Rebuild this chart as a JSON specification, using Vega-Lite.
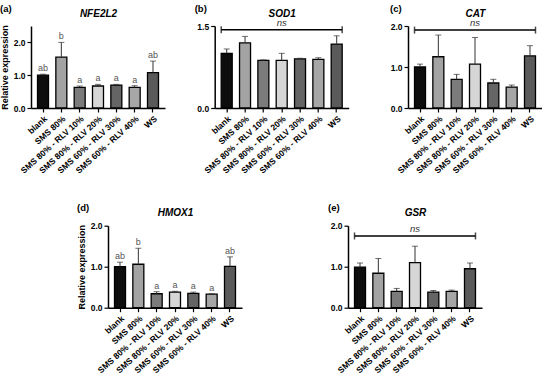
{
  "$schema": "https://vega.github.io/schema/vega-lite/v6.json",
  "autosize": {"type": "pad"},
  "padding": {"left": 0, "top": 3, "right": 0, "bottom": 0},
  "background": "white",
  "datasets": {
    "bars": [
      {"gene": "NFE2L2", "cond": "blank", "mean": 1.0, "upper": 1.03, "letter": "ab"},
      {"gene": "NFE2L2", "cond": "SMS 80%", "mean": 1.55, "upper": 2.0, "letter": "b"},
      {"gene": "NFE2L2", "cond": "SMS 80% - RLV 10%", "mean": 0.63, "upper": 0.67, "letter": "a"},
      {"gene": "NFE2L2", "cond": "SMS 80% - RLV 20%", "mean": 0.67, "upper": 0.72, "letter": "a"},
      {"gene": "NFE2L2", "cond": "SMS 60% - RLV 30%", "mean": 0.70, "upper": 0.72, "letter": "a"},
      {"gene": "NFE2L2", "cond": "SMS 60% - RLV 40%", "mean": 0.63, "upper": 0.68, "letter": "a"},
      {"gene": "NFE2L2", "cond": "WS", "mean": 1.08, "upper": 1.43, "letter": "ab"},
      {"gene": "SOD1", "cond": "blank", "mean": 1.0, "upper": 1.08, "letter": ""},
      {"gene": "SOD1", "cond": "SMS 80%", "mean": 1.19, "upper": 1.31, "letter": ""},
      {"gene": "SOD1", "cond": "SMS 80% - RLV 10%", "mean": 0.87, "upper": 0.88, "letter": ""},
      {"gene": "SOD1", "cond": "SMS 80% - RLV 20%", "mean": 0.87, "upper": 1.0, "letter": ""},
      {"gene": "SOD1", "cond": "SMS 60% - RLV 30%", "mean": 0.90, "upper": 0.91, "letter": ""},
      {"gene": "SOD1", "cond": "SMS 60% - RLV 40%", "mean": 0.89, "upper": 0.92, "letter": ""},
      {"gene": "SOD1", "cond": "WS", "mean": 1.17, "upper": 1.32, "letter": ""},
      {"gene": "CAT", "cond": "blank", "mean": 1.0, "upper": 1.07, "letter": ""},
      {"gene": "CAT", "cond": "SMS 80%", "mean": 1.25, "upper": 1.78, "letter": ""},
      {"gene": "CAT", "cond": "SMS 80% - RLV 10%", "mean": 0.70, "upper": 0.82, "letter": ""},
      {"gene": "CAT", "cond": "SMS 80% - RLV 20%", "mean": 1.07, "upper": 1.72, "letter": ""},
      {"gene": "CAT", "cond": "SMS 60% - RLV 30%", "mean": 0.61, "upper": 0.70, "letter": ""},
      {"gene": "CAT", "cond": "SMS 60% - RLV 40%", "mean": 0.51, "upper": 0.56, "letter": ""},
      {"gene": "CAT", "cond": "WS", "mean": 1.27, "upper": 1.52, "letter": ""},
      {"gene": "HMOX1", "cond": "blank", "mean": 1.0, "upper": 1.11, "letter": "ab"},
      {"gene": "HMOX1", "cond": "SMS 80%", "mean": 1.06, "upper": 1.45, "letter": "b"},
      {"gene": "HMOX1", "cond": "SMS 80% - RLV 10%", "mean": 0.34, "upper": 0.39, "letter": "a"},
      {"gene": "HMOX1", "cond": "SMS 80% - RLV 20%", "mean": 0.38, "upper": 0.40, "letter": "a"},
      {"gene": "HMOX1", "cond": "SMS 60% - RLV 30%", "mean": 0.35, "upper": 0.38, "letter": "a"},
      {"gene": "HMOX1", "cond": "SMS 60% - RLV 40%", "mean": 0.33, "upper": 0.34, "letter": "a"},
      {"gene": "HMOX1", "cond": "WS", "mean": 1.01, "upper": 1.24, "letter": "ab"},
      {"gene": "GSR", "cond": "blank", "mean": 0.99, "upper": 1.09, "letter": ""},
      {"gene": "GSR", "cond": "SMS 80%", "mean": 0.84, "upper": 1.20, "letter": ""},
      {"gene": "GSR", "cond": "SMS 80% - RLV 10%", "mean": 0.40, "upper": 0.47, "letter": ""},
      {"gene": "GSR", "cond": "SMS 80% - RLV 20%", "mean": 1.10, "upper": 1.50, "letter": ""},
      {"gene": "GSR", "cond": "SMS 60% - RLV 30%", "mean": 0.38, "upper": 0.42, "letter": ""},
      {"gene": "GSR", "cond": "SMS 60% - RLV 40%", "mean": 0.40, "upper": 0.43, "letter": ""},
      {"gene": "GSR", "cond": "WS", "mean": 0.95, "upper": 1.09, "letter": ""}
    ],
    "ns": [
      {"gene": "SOD1", "from": "blank", "to": "WS", "y": 1.43, "label": "ns"},
      {"gene": "CAT", "from": "blank", "to": "WS", "y": 1.9, "label": "ns"},
      {"gene": "GSR", "from": "blank", "to": "WS", "y": 1.75, "label": "ns"}
    ]
  },
  "vconcat": [
    {
      "bounds": "flush",
      "spacing": 377,
      "hconcat": [
        {
          "bounds": "flush",
          "spacing": 49.7,
          "hconcat": [
            {
              "width": 134, "height": 82,
              "data": {"name": "bars"},
              "transform": [{"filter": "datum.gene === 'NFE2L2'"}],
              "title": {"text": "(a)", "anchor": "start", "frame": "group", "dx": -31, "dy": 9},
              "resolve": {"axis": {"x": "independent"}},
              "layer": [
                {"mark": {"type": "bar", "stroke": "#000", "strokeWidth": 1.3},
                 "encoding": {
                   "x": {"field": "cond", "type": "nominal", "sort": ["blank","SMS 80%","SMS 80% - RLV 10%","SMS 80% - RLV 20%","SMS 60% - RLV 30%","SMS 60% - RLV 40%","WS"], "scale": {"domain": ["blank","SMS 80%","SMS 80% - RLV 10%","SMS 80% - RLV 20%","SMS 60% - RLV 30%","SMS 60% - RLV 40%","WS"], "paddingInner": 0.4, "paddingOuter": 0.355}, "axis": {"orient": "bottom", "title": null, "labelAngle": -42}},
                   "y": {"field": "mean", "type": "quantitative", "scale": {"domain": [0, 2.5], "nice": false}, "axis": {"title": "Relative expression", "values": [0, 0.5, 1, 1.5, 2, 2.5], "format": ".1f"}},
                   "color": {"field": "cond", "type": "nominal", "scale": {"domain": ["blank","SMS 80%","SMS 80% - RLV 10%","SMS 80% - RLV 20%","SMS 60% - RLV 30%","SMS 60% - RLV 40%","WS"], "range": ["#0d0d0d","#a3a3a3","#7b7b7b","#d6d6d6","#656565","#a6a6a6","#5a5a5a"]}, "legend": null}
                 }},
                {"mark": {"type": "rule", "color": "#333", "strokeWidth": 1},
                 "encoding": {
                   "x": {"field": "cond", "type": "nominal", "axis": {"orient": "top", "title": "NFE2L2", "labels": false, "ticks": false, "domain": false, "titleFontStyle": "italic", "titleFontSize": 10, "titlePadding": 8}},
                   "y": {"field": "mean", "type": "quantitative"}, "y2": {"field": "upper"}}},
                {"mark": {"type": "tick", "orient": "horizontal", "size": 6, "thickness": 1, "color": "#333"},
                 "encoding": {"x": {"field": "cond", "type": "nominal", "axis": null}, "y": {"field": "upper", "type": "quantitative"}}},
                {"mark": {"type": "text", "dy": -6, "fontSize": 9, "color": "#555", "font": "Liberation Sans"},
                 "encoding": {"x": {"field": "cond", "type": "nominal", "axis": null}, "y": {"field": "upper", "type": "quantitative"}, "text": {"field": "letter"}}}
              ]
            },
            {
              "width": 134, "height": 82,
              "data": {"name": "bars"},
              "transform": [{"filter": "datum.gene === 'SOD1'"}],
              "title": {"text": "(b)", "anchor": "start", "frame": "group", "dx": -20, "dy": 9},
              "resolve": {"axis": {"x": "independent"}},
              "layer": [
                {"mark": {"type": "bar", "stroke": "#000", "strokeWidth": 1.3},
                 "encoding": {
                   "x": {"field": "cond", "type": "nominal", "sort": ["blank","SMS 80%","SMS 80% - RLV 10%","SMS 80% - RLV 20%","SMS 60% - RLV 30%","SMS 60% - RLV 40%","WS"], "scale": {"domain": ["blank","SMS 80%","SMS 80% - RLV 10%","SMS 80% - RLV 20%","SMS 60% - RLV 30%","SMS 60% - RLV 40%","WS"], "paddingInner": 0.4, "paddingOuter": 0.355}, "axis": {"orient": "bottom", "title": null, "labelAngle": -42}},
                   "y": {"field": "mean", "type": "quantitative", "scale": {"domain": [0, 1.5], "nice": false}, "axis": {"title": null, "values": [0, 0.5, 1, 1.5], "format": ".1f"}},
                   "color": {"field": "cond", "type": "nominal", "scale": {"domain": ["blank","SMS 80%","SMS 80% - RLV 10%","SMS 80% - RLV 20%","SMS 60% - RLV 30%","SMS 60% - RLV 40%","WS"], "range": ["#0d0d0d","#a3a3a3","#7b7b7b","#d6d6d6","#656565","#a6a6a6","#5a5a5a"]}, "legend": null}
                 }},
                {"mark": {"type": "rule", "color": "#333", "strokeWidth": 1},
                 "encoding": {
                   "x": {"field": "cond", "type": "nominal", "axis": {"orient": "top", "title": "SOD1", "labels": false, "ticks": false, "domain": false, "titleFontStyle": "italic", "titleFontSize": 10, "titlePadding": 8}},
                   "y": {"field": "mean", "type": "quantitative"}, "y2": {"field": "upper"}}},
                {"mark": {"type": "tick", "orient": "horizontal", "size": 6, "thickness": 1, "color": "#333"},
                 "encoding": {"x": {"field": "cond", "type": "nominal", "axis": null}, "y": {"field": "upper", "type": "quantitative"}}},
                {"data": {"name": "ns"}, "transform": [{"filter": "datum.gene === 'SOD1'"}],
                 "mark": {"type": "rule", "color": "#000", "strokeWidth": 1.5},
                 "encoding": {"x": {"field": "from", "type": "nominal", "bandPosition": 0, "axis": null}, "x2": {"field": "to", "bandPosition": 1}, "y": {"field": "y", "type": "quantitative"}}},
                {"data": {"name": "ns"}, "transform": [{"filter": "datum.gene === 'SOD1'"}],
                 "mark": {"type": "tick", "orient": "vertical", "size": 7, "thickness": 1.5, "color": "#000"},
                 "encoding": {"x": {"field": "from", "type": "nominal", "bandPosition": 0, "axis": null}, "y": {"field": "y", "type": "quantitative"}}},
                {"data": {"name": "ns"}, "transform": [{"filter": "datum.gene === 'SOD1'"}],
                 "mark": {"type": "tick", "orient": "vertical", "size": 7, "thickness": 1.5, "color": "#000"},
                 "encoding": {"x": {"field": "to", "type": "nominal", "bandPosition": 1, "axis": null}, "y": {"field": "y", "type": "quantitative"}}},
                {"data": {"name": "ns"}, "transform": [{"filter": "datum.gene === 'SOD1'"}],
                 "mark": {"type": "text", "dy": -7, "fontSize": 9.5, "fontStyle": "italic", "color": "#333", "font": "Liberation Sans"},
                 "encoding": {"x": {"datum": "SMS 80% - RLV 20%", "type": "nominal", "axis": null}, "y": {"field": "y", "type": "quantitative"}, "text": {"field": "label"}}}
              ]
            }
          ]
        },
        {
          "width": 134, "height": 82,
          "data": {"name": "bars"},
          "transform": [{"filter": "datum.gene === 'CAT'"}],
          "title": {"text": "(c)", "anchor": "start", "frame": "group", "dx": -18, "dy": 9},
          "resolve": {"axis": {"x": "independent"}},
          "layer": [
            {"mark": {"type": "bar", "stroke": "#000", "strokeWidth": 1.3},
             "encoding": {
               "x": {"field": "cond", "type": "nominal", "sort": ["blank","SMS 80%","SMS 80% - RLV 10%","SMS 80% - RLV 20%","SMS 60% - RLV 30%","SMS 60% - RLV 40%","WS"], "scale": {"domain": ["blank","SMS 80%","SMS 80% - RLV 10%","SMS 80% - RLV 20%","SMS 60% - RLV 30%","SMS 60% - RLV 40%","WS"], "paddingInner": 0.4, "paddingOuter": 0.355}, "axis": {"orient": "bottom", "title": null, "labelAngle": -42}},
               "y": {"field": "mean", "type": "quantitative", "scale": {"domain": [0, 2], "nice": false}, "axis": {"title": null, "values": [0, 0.5, 1, 1.5, 2], "format": ".1f"}},
               "color": {"field": "cond", "type": "nominal", "scale": {"domain": ["blank","SMS 80%","SMS 80% - RLV 10%","SMS 80% - RLV 20%","SMS 60% - RLV 30%","SMS 60% - RLV 40%","WS"], "range": ["#0d0d0d","#a3a3a3","#7b7b7b","#d6d6d6","#656565","#a6a6a6","#5a5a5a"]}, "legend": null}
             }},
            {"mark": {"type": "rule", "color": "#333", "strokeWidth": 1},
             "encoding": {
               "x": {"field": "cond", "type": "nominal", "axis": {"orient": "top", "title": "CAT", "labels": false, "ticks": false, "domain": false, "titleFontStyle": "italic", "titleFontSize": 10, "titlePadding": 8}},
               "y": {"field": "mean", "type": "quantitative"}, "y2": {"field": "upper"}}},
            {"mark": {"type": "tick", "orient": "horizontal", "size": 6, "thickness": 1, "color": "#333"},
             "encoding": {"x": {"field": "cond", "type": "nominal", "axis": null}, "y": {"field": "upper", "type": "quantitative"}}},
            {"data": {"name": "ns"}, "transform": [{"filter": "datum.gene === 'CAT'"}],
             "mark": {"type": "rule", "color": "#000", "strokeWidth": 1.5},
             "encoding": {"x": {"field": "from", "type": "nominal", "bandPosition": 0, "axis": null}, "x2": {"field": "to", "bandPosition": 1}, "y": {"field": "y", "type": "quantitative"}}},
            {"data": {"name": "ns"}, "transform": [{"filter": "datum.gene === 'CAT'"}],
             "mark": {"type": "tick", "orient": "vertical", "size": 7, "thickness": 1.5, "color": "#000"},
             "encoding": {"x": {"field": "from", "type": "nominal", "bandPosition": 0, "axis": null}, "y": {"field": "y", "type": "quantitative"}}},
            {"data": {"name": "ns"}, "transform": [{"filter": "datum.gene === 'CAT'"}],
             "mark": {"type": "tick", "orient": "vertical", "size": 7, "thickness": 1.5, "color": "#000"},
             "encoding": {"x": {"field": "to", "type": "nominal", "bandPosition": 1, "axis": null}, "y": {"field": "y", "type": "quantitative"}}},
            {"data": {"name": "ns"}, "transform": [{"filter": "datum.gene === 'CAT'"}],
             "mark": {"type": "text", "dy": -7, "fontSize": 9.5, "fontStyle": "italic", "color": "#333", "font": "Liberation Sans"},
             "encoding": {"x": {"datum": "SMS 80% - RLV 20%", "type": "nominal", "axis": null}, "y": {"field": "y", "type": "quantitative"}, "text": {"field": "label"}}}
          ]
        }
      ]
    },
    {
      "bounds": "flush",
      "spacing": 0,
      "hconcat": [
        {"width": 77, "height": 1, "data": {"values": []}, "mark": {"type": "rule", "opacity": 0}, "encoding": {}},
        {
          "bounds": "flush",
          "spacing": 106,
          "hconcat": [
            {
              "width": 134, "height": 82,
              "data": {"name": "bars"},
              "transform": [{"filter": "datum.gene === 'HMOX1'"}],
              "title": {"text": "(d)", "anchor": "start", "frame": "group", "dx": -31, "dy": 9},
              "resolve": {"axis": {"x": "independent"}},
              "layer": [
                {"mark": {"type": "bar", "stroke": "#000", "strokeWidth": 1.3},
                 "encoding": {
                   "x": {"field": "cond", "type": "nominal", "sort": ["blank","SMS 80%","SMS 80% - RLV 10%","SMS 80% - RLV 20%","SMS 60% - RLV 30%","SMS 60% - RLV 40%","WS"], "scale": {"domain": ["blank","SMS 80%","SMS 80% - RLV 10%","SMS 80% - RLV 20%","SMS 60% - RLV 30%","SMS 60% - RLV 40%","WS"], "paddingInner": 0.4, "paddingOuter": 0.355}, "axis": {"orient": "bottom", "title": null, "labelAngle": -42}},
                   "y": {"field": "mean", "type": "quantitative", "scale": {"domain": [0, 2], "nice": false}, "axis": {"title": "Relative expression", "values": [0, 0.5, 1, 1.5, 2], "format": ".1f"}},
                   "color": {"field": "cond", "type": "nominal", "scale": {"domain": ["blank","SMS 80%","SMS 80% - RLV 10%","SMS 80% - RLV 20%","SMS 60% - RLV 30%","SMS 60% - RLV 40%","WS"], "range": ["#0d0d0d","#a3a3a3","#7b7b7b","#d6d6d6","#656565","#a6a6a6","#5a5a5a"]}, "legend": null}
                 }},
                {"mark": {"type": "rule", "color": "#333", "strokeWidth": 1},
                 "encoding": {
                   "x": {"field": "cond", "type": "nominal", "axis": {"orient": "top", "title": "HMOX1", "labels": false, "ticks": false, "domain": false, "titleFontStyle": "italic", "titleFontSize": 10, "titlePadding": 8}},
                   "y": {"field": "mean", "type": "quantitative"}, "y2": {"field": "upper"}}},
                {"mark": {"type": "tick", "orient": "horizontal", "size": 6, "thickness": 1, "color": "#333"},
                 "encoding": {"x": {"field": "cond", "type": "nominal", "axis": null}, "y": {"field": "upper", "type": "quantitative"}}},
                {"mark": {"type": "text", "dy": -6, "fontSize": 9, "color": "#555", "font": "Liberation Sans"},
                 "encoding": {"x": {"field": "cond", "type": "nominal", "axis": null}, "y": {"field": "upper", "type": "quantitative"}, "text": {"field": "letter"}}}
              ]
            },
            {
              "width": 134, "height": 82,
              "data": {"name": "bars"},
              "transform": [{"filter": "datum.gene === 'GSR'"}],
              "title": {"text": "(e)", "anchor": "start", "frame": "group", "dx": -20, "dy": 9},
              "resolve": {"axis": {"x": "independent"}},
              "layer": [
                {"mark": {"type": "bar", "stroke": "#000", "strokeWidth": 1.3},
                 "encoding": {
                   "x": {"field": "cond", "type": "nominal", "sort": ["blank","SMS 80%","SMS 80% - RLV 10%","SMS 80% - RLV 20%","SMS 60% - RLV 30%","SMS 60% - RLV 40%","WS"], "scale": {"domain": ["blank","SMS 80%","SMS 80% - RLV 10%","SMS 80% - RLV 20%","SMS 60% - RLV 30%","SMS 60% - RLV 40%","WS"], "paddingInner": 0.4, "paddingOuter": 0.355}, "axis": {"orient": "bottom", "title": null, "labelAngle": -42}},
                   "y": {"field": "mean", "type": "quantitative", "scale": {"domain": [0, 2], "nice": false}, "axis": {"title": null, "values": [0, 0.5, 1, 1.5, 2], "format": ".1f"}},
                   "color": {"field": "cond", "type": "nominal", "scale": {"domain": ["blank","SMS 80%","SMS 80% - RLV 10%","SMS 80% - RLV 20%","SMS 60% - RLV 30%","SMS 60% - RLV 40%","WS"], "range": ["#0d0d0d","#a3a3a3","#7b7b7b","#d6d6d6","#656565","#a6a6a6","#5a5a5a"]}, "legend": null}
                 }},
                {"mark": {"type": "rule", "color": "#333", "strokeWidth": 1},
                 "encoding": {
                   "x": {"field": "cond", "type": "nominal", "axis": {"orient": "top", "title": "GSR", "labels": false, "ticks": false, "domain": false, "titleFontStyle": "italic", "titleFontSize": 10, "titlePadding": 8}},
                   "y": {"field": "mean", "type": "quantitative"}, "y2": {"field": "upper"}}},
                {"mark": {"type": "tick", "orient": "horizontal", "size": 6, "thickness": 1, "color": "#333"},
                 "encoding": {"x": {"field": "cond", "type": "nominal", "axis": null}, "y": {"field": "upper", "type": "quantitative"}}},
                {"data": {"name": "ns"}, "transform": [{"filter": "datum.gene === 'GSR'"}],
                 "mark": {"type": "rule", "color": "#000", "strokeWidth": 1.5},
                 "encoding": {"x": {"field": "from", "type": "nominal", "bandPosition": 0, "axis": null}, "x2": {"field": "to", "bandPosition": 1}, "y": {"field": "y", "type": "quantitative"}}},
                {"data": {"name": "ns"}, "transform": [{"filter": "datum.gene === 'GSR'"}],
                 "mark": {"type": "tick", "orient": "vertical", "size": 7, "thickness": 1.5, "color": "#000"},
                 "encoding": {"x": {"field": "from", "type": "nominal", "bandPosition": 0, "axis": null}, "y": {"field": "y", "type": "quantitative"}}},
                {"data": {"name": "ns"}, "transform": [{"filter": "datum.gene === 'GSR'"}],
                 "mark": {"type": "tick", "orient": "vertical", "size": 7, "thickness": 1.5, "color": "#000"},
                 "encoding": {"x": {"field": "to", "type": "nominal", "bandPosition": 1, "axis": null}, "y": {"field": "y", "type": "quantitative"}}},
                {"data": {"name": "ns"}, "transform": [{"filter": "datum.gene === 'GSR'"}],
                 "mark": {"type": "text", "dy": -7, "fontSize": 9.5, "fontStyle": "italic", "color": "#333", "font": "Liberation Sans"},
                 "encoding": {"x": {"datum": "SMS 80% - RLV 20%", "type": "nominal", "axis": null}, "y": {"field": "y", "type": "quantitative"}, "text": {"field": "label"}}}
              ]
            }
          ]
        }
      ]
    }
  ],
  "spacing": 199.7,
  "bounds": "flush",
  "config": {
    "view": {"stroke": null},
    "title": {"font": "Liberation Sans", "fontSize": 9.5, "fontWeight": "bold", "color": "#000"},
    "axis": {
      "labelFont": "Liberation Sans", "labelFontWeight": "bold", "labelFontSize": 8.5, "labelColor": "#000",
      "titleFont": "Liberation Sans", "titleFontWeight": "bold", "titleFontSize": 9, "titleColor": "#000",
      "domainColor": "#000", "domainWidth": 1.5, "tickColor": "#000", "tickWidth": 1.2, "tickSize": 4,
      "grid": false, "labelPadding": 2, "titlePadding": 4
    }
  }
}
